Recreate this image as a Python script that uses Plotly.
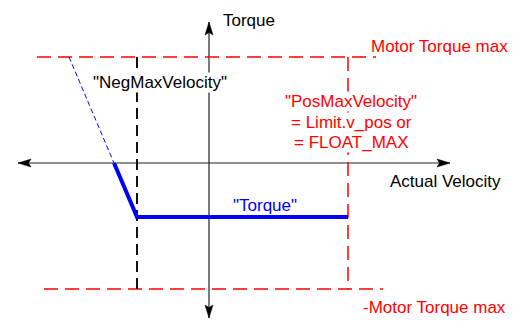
import plotly.graph_objects as go

# ---- schematic values (velocity / torque units) ----
neg_max_velocity = -72
pos_max_velocity = 139
motor_torque_max = 106
neg_motor_torque_max = -126
torque_value = -54

# torque characteristic: thin dashed extension, then thick part
curve_velocity = [-140, -95, neg_max_velocity, pos_max_velocity]
curve_torque = [motor_torque_max, 0, torque_value, torque_value]

# axis extents
vel_axis = [-191, 241]
torque_axis = [-155, 141]

# red limit lines extents
top_limit_x = [-172, 167]
bottom_limit_x = [-165, 174]

# view window
x_range = [-209, 313]
y_range = [-170, 163]

RED = "#FF0000"
BLUE = "#0000FF"
BLACK = "#000000"
FONT = "Liberation Sans, Arial, sans-serif"
FS = 17

fig = go.Figure()

def line(xs, ys, color, width, dash=None):
    fig.add_trace(go.Scatter(x=xs, y=ys, mode="lines",
                             line=dict(color=color, width=width, dash=dash),
                             hoverinfo="skip", showlegend=False))

# axes
line(vel_axis, [0, 0], "#222222", 1.2)
line([0, 0], torque_axis, "#222222", 1.2)

# arrowheads (filled polygons derived from axis tips)
L, W, N = 13, 4, 10.5
def arrow(tip_x, tip_y, dx, dy):
    px, py = -dy, dx
    xs = [tip_x, tip_x - dx * L + px * W, tip_x - dx * N, tip_x - dx * L - px * W, tip_x]
    ys = [tip_y, tip_y - dy * L + py * W, tip_y - dy * N, tip_y - dy * L - py * W, tip_y]
    fig.add_trace(go.Scatter(x=xs, y=ys, mode="lines", fill="toself",
                             fillcolor=BLACK, line=dict(color=BLACK, width=0.5),
                             hoverinfo="skip", showlegend=False))

arrow(vel_axis[0], 0, -1, 0)
arrow(vel_axis[1], 0, 1, 0)
arrow(0, torque_axis[0], 0, -1)
arrow(0, torque_axis[1], 0, 1)

# limit lines
line(top_limit_x, [motor_torque_max] * 2, RED, 1.5, "14px,7px")
line(bottom_limit_x, [neg_motor_torque_max] * 2, RED, 1.5, "14px,7px")
line([pos_max_velocity] * 2, [motor_torque_max, neg_motor_torque_max], RED, 1.5, "14px,7px")
line([neg_max_velocity] * 2, [motor_torque_max, neg_motor_torque_max], "#111111", 2, "11px,6px")

# torque curve
line(curve_velocity[:2], curve_torque[:2], BLUE, 1, "5px,3px")
line(curve_velocity[1:], curve_torque[1:], BLUE, 4)

def text(x, y, s, color=BLACK, xanchor="center", yanchor="middle", bg=None):
    fig.add_annotation(x=x, y=y, text=s, showarrow=False, xref="x", yref="y",
                       xanchor=xanchor, yanchor=yanchor, align="center",
                       bgcolor=bg, borderpad=0,
                       font=dict(family=FONT, size=FS, color=color))

text(13, 143, "Torque", xanchor="left")
text(-49, 81, "\"NegMaxVelocity\"", bg="white")
text(161, 117, "Motor Torque max", RED, xanchor="left")
text(142, 62, "\"PosMaxVelocity\"", RED, bg="white")
text(142, 41, "= Limit.v_pos or", RED, bg="white")
text(142, 21, "= FLOAT_MAX", RED, bg="white")
text(180, -18, "Actual Velocity", xanchor="left")
text(56, -42, "\"Torque\"", BLUE)
text(153, -144, "-Motor Torque max", RED, xanchor="left")

fig.update_layout(
    width=522, height=333,
    margin=dict(l=0, r=0, t=0, b=0),
    paper_bgcolor="white", plot_bgcolor="white",
    xaxis=dict(range=x_range, visible=False, fixedrange=True),
    yaxis=dict(range=y_range, visible=False, fixedrange=True),
    showlegend=False,
)

fig.write_html("out.html", config={"displayModeBar": False})
